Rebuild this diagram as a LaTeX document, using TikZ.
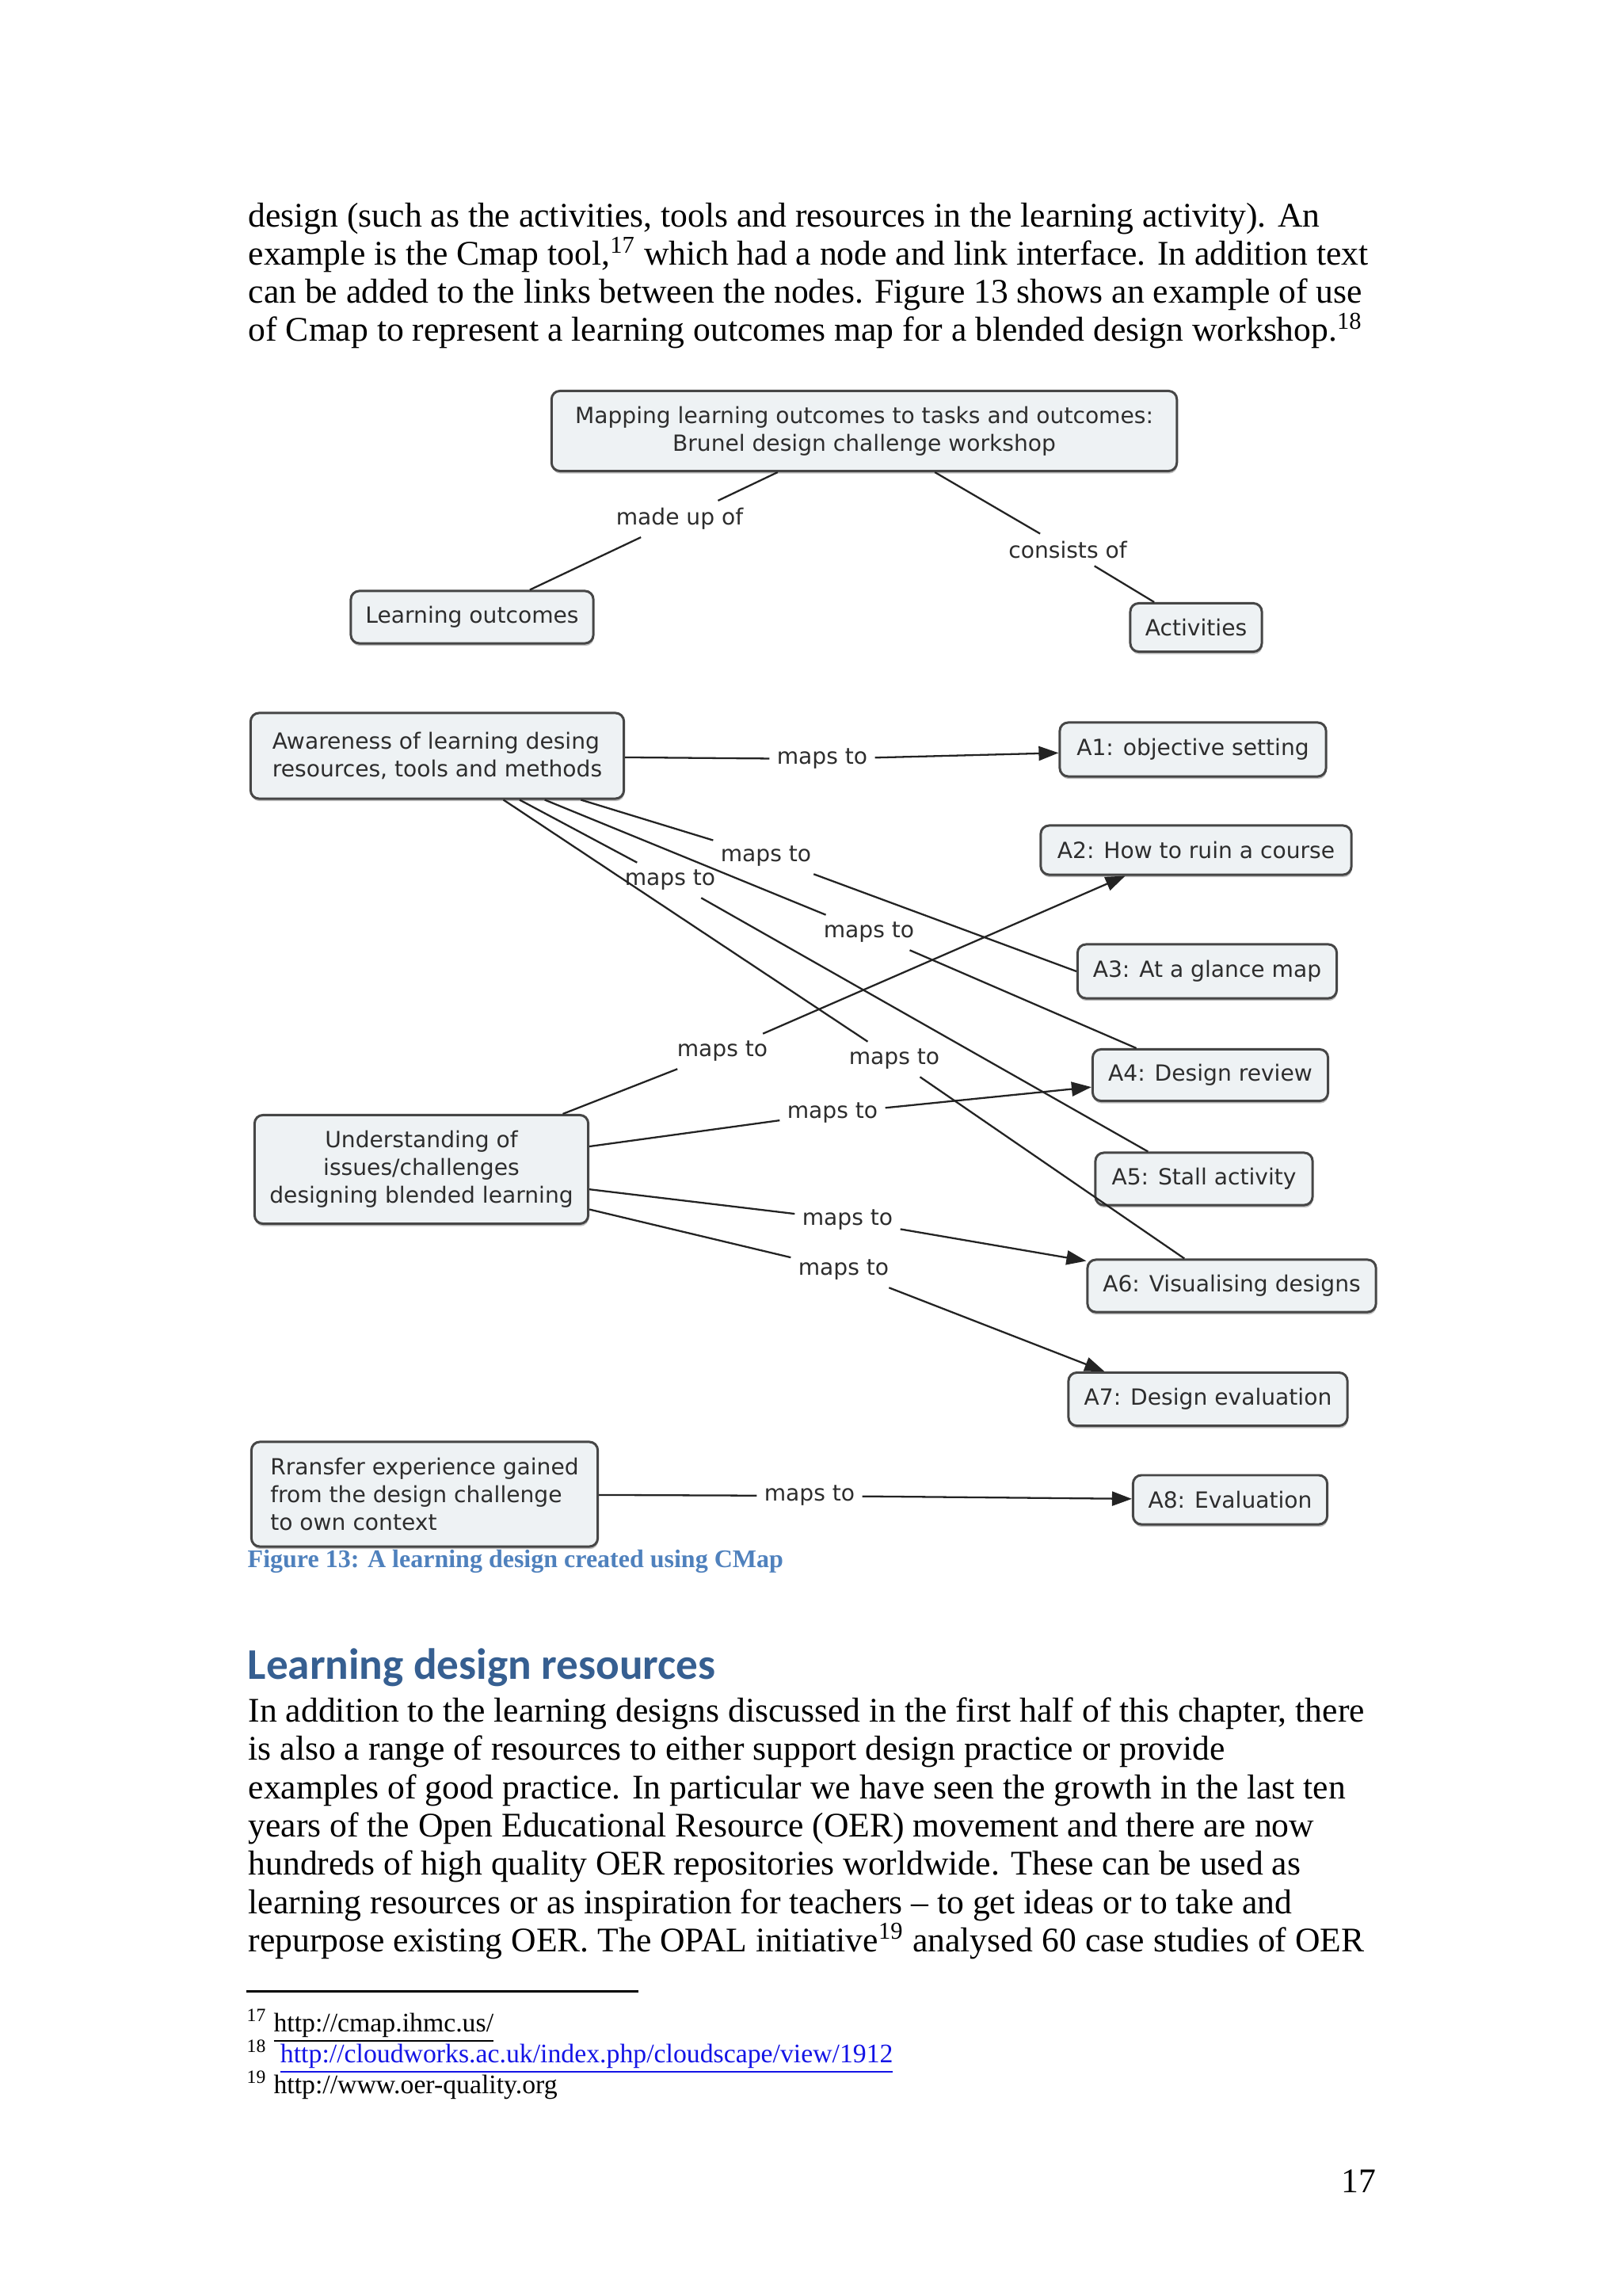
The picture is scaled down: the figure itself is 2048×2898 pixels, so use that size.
\documentclass[tikz,border=0pt]{standalone}
\usepackage{fontspec}
\setmainfont{Liberation Serif}
\newfontfamily\mapfont{DejaVu Sans}
\newfontfamily\headfont{Carlito}
\usepackage{xcolor}
\usepackage{tikz}
\usetikzlibrary{shapes,arrows.meta,positioning,shadows}

\definecolor{conceptfill}{RGB}{238,242,244}
\definecolor{conceptline}{RGB}{70,70,70}
\definecolor{maptext}{RGB}{45,45,45}
\definecolor{linkline}{RGB}{35,35,35}
\definecolor{headblue}{RGB}{54,95,145}
\definecolor{capblue}{RGB}{79,129,189}
\definecolor{urlblue}{RGB}{20,20,230}

\begin{document}
\begin{tikzpicture}[
    x=0.01cm, y=-0.01cm,
    % Concept map styles
    concept/.style={rectangle, rounded corners=3pt, draw=conceptline, fill=conceptfill,
        line width=0.85pt, text=maptext, inner sep=2pt,
        font=\mapfont\fontsize{8}{10}\selectfont,
        drop shadow={shadow xshift=0.2pt, shadow yshift=-0.9pt, fill=black, opacity=0.25}},
    link/.style={text=maptext, inner sep=2.5pt, font=\mapfont\fontsize{8}{10}\selectfont},
    line/.style={draw=linkline, line width=0.65pt},
    arrow/.style={line, -{Triangle[length=0.25cm, width=0.18cm]}},
    % Page text styles
    bodyline/.style={anchor=base west, inner sep=0pt, font=\fontsize{12.4}{15}\selectfont},
    footline/.style={anchor=base west, inner sep=0pt, font=\fontsize{9.6}{11}\selectfont}
]
    \fill[white] (0,0) rectangle (2048,2898);
    \useasboundingbox (0,0) rectangle (2048,2898);

    % Text above the figure
    \node[bodyline] (top1) at (313,287) {design (such as the activities, tools and resources in the learning activity). An};
    \node[bodyline] (top2) at (313,335) {example is the Cmap tool,\textsuperscript{17} which had a node and link interface. In addition text};
    \node[bodyline] (top3) at (313,383) {can be added to the links between the nodes. Figure 13 shows an example of use};
    \node[bodyline] (top4) at (313,431) {of Cmap to represent a learning outcomes map for a blended design workshop.\textsuperscript{18}};

    % Concepts
    \node[concept, align=center, minimum width=7.89cm, minimum height=1.01cm] (title) at (1091,544)
        {Mapping learning outcomes to tasks and outcomes:\\Brunel design challenge workshop};
    \node[concept, minimum width=3.06cm, minimum height=0.66cm] (outcomes) at (596,779) {Learning outcomes};
    \node[concept, minimum width=1.66cm, minimum height=0.61cm] (activities) at (1510,792) {Activities};
    \node[concept, align=left, minimum width=4.71cm, minimum height=1.08cm] (aware) at (552,954)
        {Awareness of learning desing\\resources, tools and methods};
    \node[concept, align=center, minimum width=4.21cm, minimum height=1.37cm] (underst) at (532,1476)
        {Understanding of\\issues/challenges\\designing blended learning};
    \node[concept, align=left, minimum width=4.37cm, minimum height=1.32cm] (transfer) at (536,1886)
        {Rransfer experience gained\\from the design challenge\\to own context};
    \node[concept, minimum width=3.36cm, minimum height=0.68cm] (a1) at (1506,946) {A1: objective setting};
    \node[concept, minimum width=3.92cm, minimum height=0.62cm] (a2) at (1510,1073) {A2: How to ruin a course};
    \node[concept, minimum width=3.27cm, minimum height=0.68cm] (a3) at (1524,1226) {A3: At a glance map};
    \node[concept, minimum width=2.97cm, minimum height=0.65cm] (a4) at (1528,1357) {A4: Design review};
    \node[concept, minimum width=2.74cm, minimum height=0.66cm] (a5) at (1520,1488) {A5: Stall activity};
    \node[concept, minimum width=3.64cm, minimum height=0.66cm] (a6) at (1555,1623) {A6: Visualising designs};
    \node[concept, minimum width=3.52cm, minimum height=0.67cm] (a7) at (1525,1766) {A7: Design evaluation};
    \node[concept, minimum width=2.45cm, minimum height=0.62cm] (a8) at (1553,1893) {A8: Evaluation};

    % Linking phrases
    \node[link] (madeup) at (858,655) {made up of};
    \node[link] (consists) at (1348,694) {consists of};
    \node[link] (awA1) at (1038,958) {maps to};
    \node[link] (awA3) at (967,1081) {maps to};
    \node[link] (awA4) at (1097,1177) {maps to};
    \node[link] (awA5) at (846,1111) {maps to};
    \node[link] (awA6) at (1129,1337) {maps to};
    \node[link] (unA2) at (912,1327) {maps to};
    \node[link] (unA4) at (1051,1405) {maps to};
    \node[link] (unA6) at (1070,1540) {maps to};
    \node[link] (unA7) at (1065,1603) {maps to};
    \node[link] (trA8) at (1022,1888) {maps to};

    % Title links
    \draw[line] (title) -- (madeup);
    \draw[line] (madeup) -- (outcomes);
    \draw[line] (title) -- (consists);
    \draw[line] (consists) -- (activities);

    % Awareness links
    \draw[line] (aware) -- (awA1);
    \draw[arrow] (awA1) -- (a1);
    \draw[line] (aware) -- (awA3);
    \draw[line] (awA3) -- (a3.west);
    \draw[line] (aware) -- (awA4);
    \draw[line] (awA4) -- (a4.160);
    \draw[line] (aware) -- (awA5);
    \draw[line] (awA5) -- (a5.154);
    \draw[line] (aware) -- (awA6);
    \draw[line] (awA6) -- (a6.150);

    % Understanding links
    \draw[line] (underst) -- (unA2);
    \draw[arrow] (unA2) -- (a2.200);
    \draw[line] (underst) -- (unA4);
    \draw[arrow] (unA4) -- (a4);
    \draw[line] (underst) -- (unA6);
    \draw[arrow] (unA6) -- (a6);
    \draw[line] (underst) -- (unA7);
    \draw[arrow] (unA7) -- (a7.165);

    % Transfer link
    \draw[line] (transfer) -- (trA8);
    \draw[arrow] (trA8) -- (a8);

    % Caption and heading
    \node[anchor=base west, inner sep=0pt, text=capblue, font=\bfseries\fontsize{9.1}{11}\selectfont] (caption) at (312,1978)
        {Figure 13: A learning design created using CMap};
    \node[anchor=base west, inner sep=0pt, text=headblue, font=\headfont\bfseries\fontsize{15.7}{18}\selectfont] (heading) at (312,2119)
        {Learning design resources};

    % Text below the figure
    \node[bodyline] (bot1) at (313,2173) {In addition to the learning designs discussed in the first half of this chapter, there};
    \node[bodyline] (bot2) at (313,2221) {is also a range of resources to either support design practice or provide};
    \node[bodyline] (bot3) at (313,2270) {examples of good practice. In particular we have seen the growth in the last ten};
    \node[bodyline] (bot4) at (313,2318) {years of the Open Educational Resource (OER) movement and there are now};
    \node[bodyline] (bot5) at (313,2366) {hundreds of high quality OER repositories worldwide. These can be used as};
    \node[bodyline] (bot6) at (313,2415) {learning resources or as inspiration for teachers -- to get ideas or to take and};
    \node[bodyline] (bot7) at (313,2463) {repurpose existing OER. The OPAL initiative\textsuperscript{19} analysed 60 case studies of OER};

    % Footnotes
    \coordinate (ruleL) at (311,2513);
    \coordinate (ruleR) at (806,2513);
    \draw[line width=0.85pt] (ruleL) -- (ruleR);
    \node[footline] (fn1) at (311,2564) {\textsuperscript{17} \underline{http://cmap.ihmc.us/}};
    \node[footline] (fn2) at (311,2603) {\textsuperscript{18}\ \ \textcolor{urlblue}{\underline{http://cloudworks.ac.uk/index.php/cloudscape/view/1912}}};
    \node[footline] (fn3) at (311,2642) {\textsuperscript{19} http://www.oer-quality.org};

    % Page number
    \node[anchor=base east, inner sep=0pt, font=\fontsize{12.4}{15}\selectfont] (pagenum) at (1738,2767) {17};
\end{tikzpicture}
\end{document}
